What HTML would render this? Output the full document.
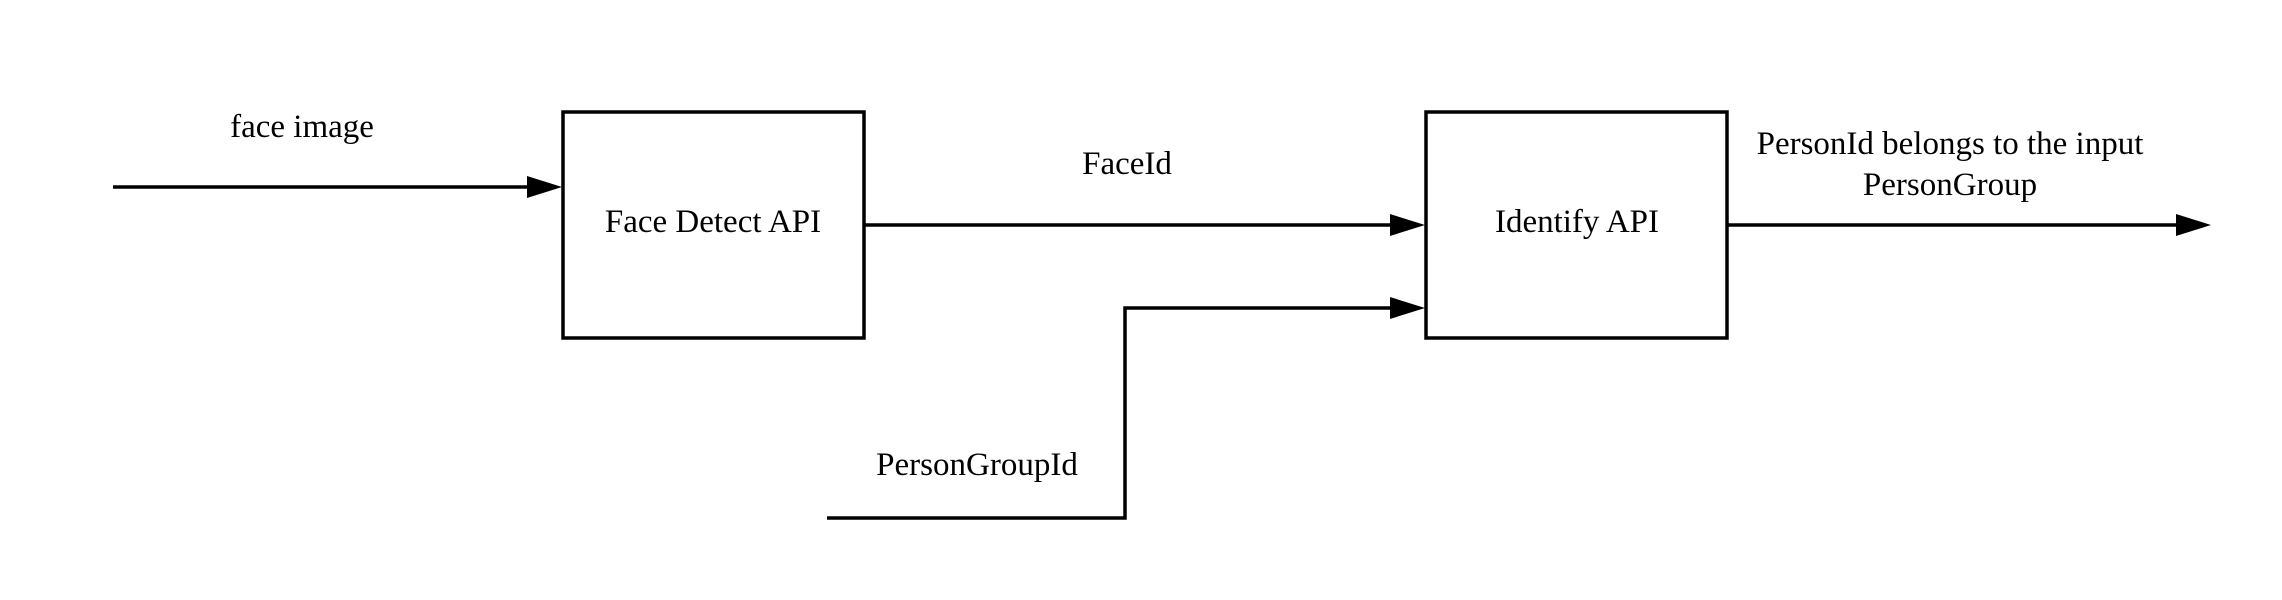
<!DOCTYPE html>
<html><head><meta charset="utf-8"><style>
html,body{margin:0;padding:0;background:#fff;}
svg{display:block}
text{font-family:"Liberation Serif",serif;font-size:33px;fill:#000;text-anchor:middle;dominant-baseline:central}
</style></head><body>
<svg width="2282" height="600" viewBox="0 0 2282 600" xmlns="http://www.w3.org/2000/svg">
<g stroke="#000" stroke-width="3.5" fill="none">
<rect x="563" y="112" width="301" height="226"/>
<rect x="1426" y="112" width="301" height="226"/>
<line x1="113" y1="187" x2="530" y2="187"/>
<line x1="864" y1="225" x2="1392" y2="225"/>
<polyline points="827,518 1125,518 1125,308 1392,308"/>
<line x1="1727" y1="225" x2="2178" y2="225"/>
</g>
<g fill="#000">
<polygon points="527,176 562,187 527,198"/>
<polygon points="1390,214 1425,225 1390,236"/>
<polygon points="1390,297 1425,308 1390,319"/>
<polygon points="2176,214 2211,225 2176,236"/>
</g>
<text x="302" y="127">face image</text>
<text x="713" y="222">Face Detect API</text>
<text x="1127" y="164">FaceId</text>
<text x="1577" y="222">Identify API</text>
<text x="1950" y="144">PersonId belongs to the input</text>
<text x="1950" y="185">PersonGroup</text>
<text x="977" y="465">PersonGroupId</text>
</svg>
</body></html>
